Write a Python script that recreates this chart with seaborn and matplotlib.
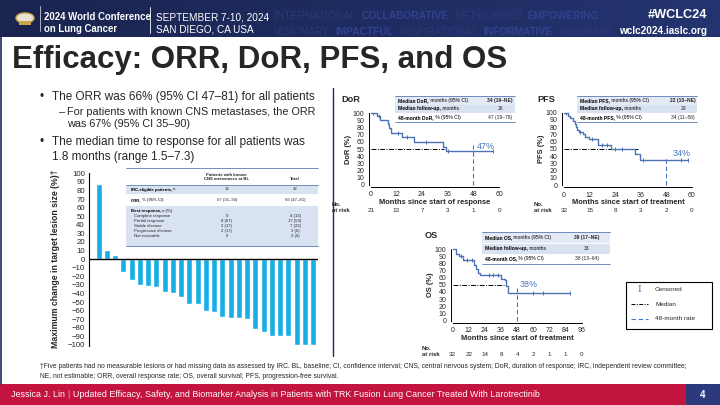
import numpy as np
import pandas as pd
import matplotlib
matplotlib.use("Agg")
import matplotlib.pyplot as plt
from matplotlib.patches import Rectangle, Circle
from matplotlib.lines import Line2D
from matplotlib.colors import LinearSegmentedColormap
from matplotlib.transforms import blended_transform_factory
import seaborn as sns

# ---------------- data ----------------
wf_values = [88, 11, 5, -15, -24, -30, -31, -33, -38, -39, -44, -52, -52, -60,
             -62, -68, -69, -69, -70, -82, -85, -89, -90, -90, -100, -100, -100]
wf_yticks = list(range(-100, 101, 10))

dor_time = [0, 3, 4.5, 8, 8.6, 9.5, 14.5, 20.3, 34, 35, 57]
dor_surv = [100, 96, 91, 85, 80, 73, 67, 60, 53, 47, 47]
dor_cens_t = [1.2, 4.0, 13.0, 17.0, 26.0, 36.0, 57.0]
dor_cens_s = [100, 96, 73, 67, 60, 47, 47]
dor_risk = [21, 13, 7, 3, 1, 0]

pfs_time = [0, 2, 3, 4.2, 5, 5.5, 6.3, 7, 9, 10, 11.5, 16, 22, 33.5, 35.5, 58]
pfs_surv = [100, 96, 92, 88, 85, 80, 76, 73, 70, 66, 63, 56, 50, 43, 34, 34]
pfs_cens_t = [1.0, 7.5, 13.0, 18.0, 20.0, 24.0, 27.0, 37.0, 55.0, 58.0]
pfs_cens_s = [100, 73, 63, 56, 56, 50, 50, 34, 34, 34]
pfs_risk = [32, 15, 8, 3, 2, 0]

os_time = [0, 2.5, 5, 8, 15.5, 17, 18.5, 20, 36, 39, 40, 41, 87]
os_surv = [100, 93, 90, 84, 78, 72, 67, 64, 58, 56, 48, 38, 38]
os_cens_t = [6, 11, 14, 27, 30, 34, 60, 67, 87]
os_cens_s = [90, 84, 84, 64, 64, 64, 38, 38, 38]
os_risk = [32, 22, 14, 8, 4, 2, 1, 1, 0]

landmark_month = 48
median_level = 50
dor_landmark_pct, pfs_landmark_pct, os_landmark_pct = "47%", "34%", "38%"

wf_table_rows = [
    ("IRC-eligible patients,", " n", "12", "32"),
    ("ORR,", " % (95% CI)", "67 (35\u201390)", "66 (47\u201381)"),
]
wf_best = [
    ("Complete response", "0", "4 (13)"),
    ("Partial response", "8 (67)", "17 (53)"),
    ("Stable disease", "2 (17)", "7 (22)"),
    ("Progressive disease", "2 (17)", "2 (6)"),
    ("Not evaluable", "0", "2 (6)"),
]
dor_table = [("Median DoR,", " months (95% CI)", "34 (19\u2013NE)"),
             ("Median follow-up,", " months", "26"),
             ("48-month DoR,", " % (95% CI)", "47 (19\u201376)")]
pfs_table = [("Median PFS,", " months (95% CI)", "22 (10\u2013NE)"),
             ("Median follow-up,", " months", "28"),
             ("48-month PFS,", " % (95% CI)", "34 (11\u201356)")]
os_table = [("Median OS,", " months (95% CI)", "39 (17\u2013NE)"),
            ("Median follow-up,", " months", "33"),
            ("48-month OS,", " % (95% CI)", "38 (13\u201364)")]

header_row1 = [("INTERNATIONAL", "normal"), ("COLLABORATIVE", "bold"),
               ("NETWORKED", "normal"), ("EMPOWERING", "bold")]
header_row2 = [("VISIONARY", "normal"), ("IMPACTFUL", "bold"),
               ("INSPIRATIONAL", "normal"), ("INFORMATIVE", "bold"),
               ("VISIONARY", "normal")]

# ---------------- style ----------------
sns.set_theme(style="white")
plt.rcParams["font.family"] = ["Liberation Sans", "DejaVu Sans"]
plt.rcParams["axes.unicode_minus"] = True

W, H = 720, 405
fig = plt.figure(figsize=(7.2, 4.05), dpi=100)
fig.patch.set_facecolor("white")
renderer = fig.canvas.get_renderer()

def X(x): return x / W
def Y(y): return 1 - y / H
def rect(x0, y0, x1, y1): return [x0 / W, 1 - y1 / H, (x1 - x0) / W, (y1 - y0) / H]

def frect(x0, y0, x1, y1, color, z=0.5, **kw):
    fig.add_artist(Rectangle((X(x0), Y(y1)), (x1 - x0) / W, (y1 - y0) / H,
                             transform=fig.transFigure, facecolor=color,
                             edgecolor="none", zorder=z, **kw))

def fline(x0, y0, x1, y1, color, lw=0.8, ls="-", z=2):
    fig.add_artist(Line2D([X(x0), X(x1)], [Y(y0), Y(y1)], transform=fig.transFigure,
                          color=color, lw=lw, ls=ls, zorder=z))

def ftext(x, y, s, size, **kw):
    kw.setdefault("va", "center")
    return fig.text(X(x), Y(y), s, fontsize=size, **kw)

def rich(x, y, parts, size, color="black", gap=0.0, colors=None, **kw):
    cx = x
    for i, (s, w) in enumerate(parts):
        c = colors[i] if colors else color
        t = ftext(cx, y, s, size, fontweight=w, color=c, ha="left", **kw)
        bb = t.get_window_extent(renderer)
        cx = bb.x1 + gap
    return cx

NAVY = "#1d2a5a"
KM_BLUE = "#4d72b6"
PCT_BLUE = "#4472c4"
TBL_BG = "#d9e2f1"
TBL_LINE = "#5a7bb3"
BAR = "#19aee6"

# ---------------- header ----------------
axh = fig.add_axes(rect(0, 0, 720, 37))
grad = np.linspace(0, 1, 256).reshape(1, -1)
axh.imshow(grad, aspect="auto", extent=[0, 1, 0, 1],
           cmap=LinearSegmentedColormap.from_list("h", ["#1a244f", "#1f2c61", "#243470"]))
axh.set_axis_off()
fc = {"bold": "#2e4290", "normal": "#2a3a78"}
rich(274, 16, header_row1, 7.4, gap=6, colors=[fc[w] for _, w in header_row1])
rich(274, 32, header_row2, 7.4, gap=6, colors=[fc[w] for _, w in header_row2])
fig.add_artist(Circle((X(25), Y(18)), 9 / W, transform=fig.transFigure,
                      facecolor="#e9e4d6", edgecolor="#c9a64a", lw=1.0, zorder=3))
frect(19, 21, 31, 25, "#c9a64a", z=4)
fline(40, 6, 40, 31, "#c9c9d6", lw=0.6, z=3)
ftext(44, 17.5, "2024 World Conference", 6.9, color="white", fontweight="bold", ha="left")
ftext(44, 29.5, "on Lung Cancer", 6.9, color="white", fontweight="bold", ha="left")
fline(150, 7, 150, 33, "white", lw=0.6, z=3)
ftext(156, 17.5, "SEPTEMBER 7-10, 2024", 7.2, color="white", ha="left")
ftext(156, 29.5, "SAN DIEGO, CA USA", 7.2, color="white", ha="left")
ftext(707, 14.5, "#WCLC24", 9.2, color="white", fontweight="bold", ha="right")
ftext(707, 31, "wclc2024.iaslc.org", 7.2, color="white", fontweight="bold", ha="right")

# ---------------- title, bullets ----------------
ftext(12, 60, "Efficacy: ORR, DoR, PFS, and OS", 22.5, fontweight="bold", ha="left")
fline(333, 88, 333, 356, NAVY, lw=1.0)
fline(1, 37, 1, 384, NAVY, lw=1.2)

ftext(39, 96.7, "\u2022", 8.5, ha="left")
ftext(52, 96.7, "The ORR was 66% (95% CI 47\u201381) for all patients", 8.5, ha="left")
ftext(59, 112.3, "\u2013", 7.8, ha="left")
ftext(66.7, 112.3, "For patients with known CNS metastases, the ORR", 7.8, ha="left")
ftext(66.7, 124, "was 67% (95% CI 35\u201390)", 7.8, ha="left")
ftext(39, 142, "\u2022", 8.5, ha="left")
ftext(52, 142, "The median time to response for all patients was", 8.5, ha="left")
ftext(52, 156.7, "1.8 months (range 1.5\u20137.3)", 8.5, ha="left")

# ---------------- waterfall ----------------
ax_wf = fig.add_axes(rect(89, 172.5, 318, 345.8))
sns.barplot(x=list(range(len(wf_values))), y=wf_values, color=BAR, saturation=1,
            width=0.72, ax=ax_wf)
ax_wf.set_xlim(-1.18, 26.6)
ax_wf.set_ylim(-101, 101)
ax_wf.axhline(0, color="black", lw=1.0, zorder=3)
ax_wf.set_yticks(wf_yticks)
ax_wf.set_yticklabels([f"{v}" if v >= 0 else f"\u2212{-v}" for v in wf_yticks], fontsize=5.6)
ax_wf.set_xticks([])
ax_wf.set_xlabel("")
ax_wf.set_ylabel("")
for sp in ["top", "right", "bottom"]:
    ax_wf.spines[sp].set_visible(False)
ax_wf.spines["left"].set_color("black")
ax_wf.spines["left"].set_linewidth(0.8)
ax_wf.tick_params(axis="y", length=2, width=0.6, pad=1, color="black")
ax_wf.patch.set_alpha(0)
ftext(55, 258.5, "Maximum change in target lesion size (%)\u2020", 6.3, fontweight="bold",
      rotation=90, ha="center")

# table on waterfall
tx0, tx1 = 126.5, 318
c2, c3 = 226.7, 295
TS = 3.1
frect(tx0, 168, tx1, 246, "white", z=2.5)
frect(tx0, 185.5, tx1, 193.5, TBL_BG, z=2.6)
frect(tx0, 206, tx1, 245.5, TBL_BG, z=2.6)
fline(tx0, 168, tx1, 168, TBL_LINE, lw=0.6, z=2.7)
fline(tx0, 185, tx1, 185, TBL_LINE, lw=0.6, z=2.7)
fline(tx0, 246, tx1, 246, TBL_LINE, lw=0.6, z=2.7)
ftext(c2, 174.5, "Patients with known", TS, fontweight="bold", ha="center")
ftext(c2, 179.5, "CNS metastases at BL", TS, fontweight="bold", ha="center")
ftext(c3, 179.5, "Total", TS, fontweight="bold", ha="center")
for (lb, lr, v2, v3), yy in zip(wf_table_rows, [189.5, 200]):
    rich(130.7, yy, [(lb, "bold"), (lr, "normal")], TS)
    ftext(c2, yy, v2, TS, ha="center")
    ftext(c3, yy, v3, TS, ha="center")
rich(130.7, 211, [("Best response,", "bold"), (" n (%)", "normal")], TS)
for (lb, v2, v3), yy in zip(wf_best, [216, 221, 226, 231, 236]):
    ftext(134, yy, lb, TS, ha="left")
    ftext(c2, yy, v2, TS, ha="center")
    ftext(c3, yy, v3, TS, ha="center")

# ---------------- KM panels ----------------
def km_panel(box, t, s, ct, cs, xmax, risk, title, title_xy, ylab, ylab_x, xlab,
             xlab_y, risk_xy, pct, pct_xy, dash_top, med_end):
    x0, y0, x1, y1 = box
    ax = fig.add_axes(rect(x0, y0, x1, y1))
    df = pd.DataFrame({"t": t, "s": s})
    sns.lineplot(data=df, x="t", y="s", drawstyle="steps-post", color=KM_BLUE,
                 lw=1.0, estimator=None, sort=False, ax=ax, zorder=3)
    dc = pd.DataFrame({"t": ct, "s": cs})
    sns.scatterplot(data=dc, x="t", y="s", marker="|", s=9, color=KM_BLUE,
                    linewidth=0.7, ax=ax, zorder=4)
    ax.plot([0, med_end], [median_level, median_level], color="black", lw=0.7,
            ls=(0, (5, 1.5, 1, 1.5)), zorder=2)
    ax.plot([landmark_month, landmark_month], [0, dash_top], color=PCT_BLUE, lw=0.8,
            ls=(0, (4, 2.5)), zorder=2)
    ax.set_xlim(0, xmax)
    ax.set_ylim(0, 100)
    ax.set_xticks(list(range(0, xmax + 1, 12)))
    ax.set_yticks(list(range(0, 101, 10)))
    ax.tick_params(axis="both", labelsize=5, length=2, width=0.6, pad=1.2, color="black")
    ax.set_xlabel("")
    ax.set_ylabel("")
    for sp in ["top", "right"]:
        ax.spines[sp].set_visible(False)
    for sp in ["left", "bottom"]:
        ax.spines[sp].set_color("black")
        ax.spines[sp].set_linewidth(0.7)
        ax.spines[sp].set_position(("outward", 1.5))
    ax.patch.set_alpha(0)
    for a in ax.lines:
        a.set_clip_on(False)
    ftext(title_xy[0], title_xy[1], title, 6.6, fontweight="bold", ha="left")
    ftext(ylab_x, (y0 + y1) / 2, ylab, 5.4, fontweight="bold", rotation=90, ha="center")
    ftext((x0 + x1) / 2, xlab_y, xlab, 5.4, fontweight="bold", ha="center")
    ftext(risk_xy[0], risk_xy[1] - 5.5, "No.", 4.3, fontweight="bold", ha="left")
    ftext(risk_xy[0], risk_xy[1], "at risk", 4.3, fontweight="bold", ha="left")
    tr = blended_transform_factory(ax.transData, fig.transFigure)
    for i, r in enumerate(risk):
        ax.text(i * 12, Y(risk_xy[1]), str(r), transform=tr, fontsize=4.5,
                ha="center", va="center")
    ax.text(pct_xy[0], pct_xy[1], pct, fontsize=6.4, color=PCT_BLUE, ha="left",
            va="center")
    return ax

def km_table(x0, x1, ytop, rh, rows, vx):
    frect(x0, ytop, x1, ytop + rh, "#e4eaf5", z=2.6)
    frect(x0, ytop + rh + 0.6, x1, ytop + 2 * rh, TBL_BG, z=2.6)
    fline(x0, ytop, x1, ytop, TBL_LINE, lw=0.6, z=2.7)
    fline(x0, ytop + 3 * rh, x1, ytop + 3 * rh, TBL_LINE, lw=0.6, z=2.7)
    for i, (lb, lr, v) in enumerate(rows):
        yy = ytop + rh * (i + 0.5)
        rich(x0 + 3, yy, [(lb, "bold"), (lr, "normal")], 3.6)
        ftext(vx, yy, v, 3.6, ha="center", fontweight="bold" if i == 0 else "normal")

km_panel((370.7, 113.3, 499, 184.7), dor_time, dor_surv, dor_cens_t, dor_cens_s, 60,
         dor_risk, "DoR", (341.5, 100), "DoR (%)", 348.3,
         "Months since start of response", 202.3, (331.5, 210.5),
         dor_landmark_pct, (49.5, 54), 56, 34.5)
km_table(395, 515, 96, 8.5, dor_table, 500)

km_panel((564, 112.7, 692, 185), pfs_time, pfs_surv, pfs_cens_t, pfs_cens_s, 60,
         pfs_risk, "PFS", (537, 100), "PFS (%)", 541.7,
         "Months since start of treatment", 202.3, (534, 210.5),
         pfs_landmark_pct, (51, 44), 39, 34.8)
km_table(576.7, 696.7, 96, 8.5, pfs_table, 683.3)

km_panel((452.7, 249, 581.7, 320.5), os_time, os_surv, os_cens_t, os_cens_s, 96,
         os_risk, "OS", (425, 235), "OS (%)", 430,
         "Months since start of treatment", 338.3, (421.7, 354),
         os_landmark_pct, (50, 51), 46, 39.7)
km_table(481.7, 610, 232.3, 10.67, os_table, 586.7)

# ---------------- legend ----------------
fig.add_artist(Rectangle((X(626), Y(329)), 86 / W, 47 / H, transform=fig.transFigure,
                         facecolor="white", edgecolor="black", lw=0.8, zorder=3))
ftext(639.5, 289.5, "I", 6.5, color=KM_BLUE, family="DejaVu Serif", ha="center", zorder=4)
fline(631, 304, 648, 304, "black", lw=0.7, ls=(0, (4, 1.5, 1, 1.5)), z=4)
fline(631, 318.5, 648, 318.5, PCT_BLUE, lw=0.8, ls=(0, (4, 2.5)), z=4)
ftext(655, 289.5, "Censored", 4.6, ha="left", zorder=4)
ftext(655, 304, "Median", 4.6, ha="left", zorder=4)
ftext(655, 318.5, "48-month rate", 4.6, ha="left", zorder=4)

# ---------------- footnote & footer ----------------
ftext(40, 367, "\u2020Five patients had no measurable lesions or had missing data as assessed by IRC. BL, baseline; CI, confidence interval; CNS, central nervous system; DoR, duration of response; IRC, independent review committee;",
      4.87, ha="left")
ftext(40, 376, "NE, not estimable; ORR, overall response rate; OS, overall survival; PFS, progression-free survival.",
      4.87, ha="left")
frect(0, 384, 720, 405, "#c3133f", z=1)
frect(686, 384, 720, 405, "#2b3a7c", z=1.1)
t1 = ftext(11, 394.5, "Jessica J. Lin", 6.4, color="white", ha="left")
x_after = t1.get_window_extent(renderer).x1
t2 = ftext(x_after + 2.5, 394.5, "|", 6.4, color="#f2a0b0", ha="left")
x_after = t2.get_window_extent(renderer).x1
ftext(x_after + 3, 394.5, "Updated Efficacy, Safety, and Biomarker Analysis in Patients with TRK Fusion Lung Cancer Treated With Larotrectinib",
      6.4, color="white", ha="left")
ftext(703, 394.5, "4", 7, color="white", fontweight="bold", ha="center")

fig.savefig("out.png", dpi=100)
